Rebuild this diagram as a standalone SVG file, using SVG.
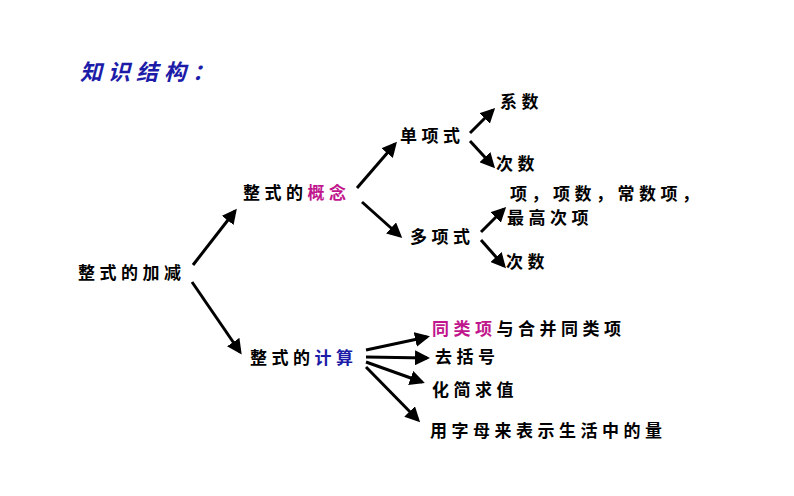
<svg xmlns="http://www.w3.org/2000/svg" width="794" height="496" viewBox="0 0 794 496">
<style>
text{font-family:"Noto Sans CJK SC","Liberation Sans",sans-serif;font-size:17px;font-weight:bold;fill:#000;letter-spacing:4.5px}
.m{fill:#c0158c}.b{fill:#1c1ca8}
.t{font-size:22px;fill:#1c1ca8;font-style:italic;letter-spacing:6px}
line{stroke:#000;stroke-width:3;marker-end:url(#a)}
</style>
<defs><marker id="a" markerWidth="5" markerHeight="5" refX="4" refY="2.5" orient="auto" markerUnits="strokeWidth"><path d="M0,0L5,2.5L0,5z" fill="#000"/></marker></defs>
<rect width="794" height="496" fill="#fff"/>
<text class="t" x="80" y="80">知识结构：</text>
<g id="connectors">
<line x1="193" y1="265" x2="235" y2="211"/>
<line x1="357" y1="188" x2="395" y2="144"/>
<line x1="362" y1="202" x2="400" y2="236"/>
<line x1="470" y1="133" x2="493" y2="110"/>
<line x1="470" y1="141" x2="493" y2="166"/>
<line x1="481" y1="232" x2="504" y2="209"/>
<line x1="481" y1="240" x2="504" y2="266"/>
<line x1="192" y1="282" x2="240" y2="352"/>
<line x1="366" y1="350" x2="427" y2="337"/>
<line x1="366" y1="357" x2="427" y2="358"/>
<line x1="366" y1="362" x2="422" y2="382"/>
<line x1="366" y1="367" x2="418" y2="420"/>
</g>
<g id="root"><text x="78" y="279">整式的加减</text></g>
<g id="concept"><text x="243" y="199">整式的<tspan class="m">概念</tspan></text></g>
<g id="mono"><text x="400" y="142">单项式</text></g>
<g id="coef"><text x="500" y="108">系数</text></g>
<g id="deg1"><text x="496" y="170">次数</text></g>
<g id="poly"><text x="410" y="243">多项式</text></g>
<g id="terms"><text x="510" y="200">项，项数，常数项，</text><text x="507" y="224">最高次项</text></g>
<g id="deg2"><text x="506" y="268">次数</text></g>
<g id="calc"><text x="250" y="364">整式的<tspan class="b">计算</tspan></text></g>
<g id="like"><text x="432" y="335"><tspan class="m">同类项</tspan>与合并同类项</text></g>
<g id="brk"><text x="435" y="363">去括号</text></g>
<g id="simp"><text x="432" y="396">化简求值</text></g>
<g id="letters"><text x="430" y="437">用字母来表示生活中的量</text></g>
</svg>
